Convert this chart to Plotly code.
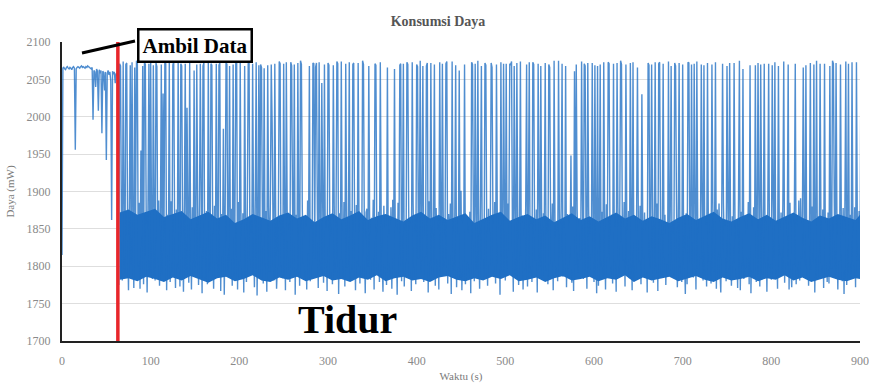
import plotly.graph_objects as go

# Power consumption samples (mW), one per second
daya_awal = [1815,
    2065,2066,2064,2063,2066,2067,2065,2064,2066,2065,2063,2066,2067,2065,
    1956,
    2064,2066,2067,2066,2065,2067,2068,2066,2067,2066,2065,2067,2066,2068,2067,2066,2065,2064,2066,
    1996,2062,2060,2040,2064,2061,2008,2063,2058,2062,1978,2061,2059,2035,2060,
    1942,2058,2062,2056,2060,2048,1862,2061,2057,2060,2045,2058,2055,2068]

daya_tidur = [
1775,2071,2068,1862,1781,2074,1873,1790,2070,2072,1845,1768,1880,2069,1802,2073,1856,1771,2066,1868,
2075,2072,1799,1885,1770,1955,1840,2068,1776,2073,2070,1862,1765,1878,2071,1793,2074,1849,1783,2069,
1871,1781,2072,2067,1805,1888,1774,1862,2070,1789,2031,1843,2073,2071,1768,1869,1815,2072,1779,1887,
1792,2069,2074,1851,1771,1876,1800,2074,1864,1773,2071,2068,1846,1766,1883,2071,1796,2012,1859,1778,
2073,1854,1769,1879,1805,2062,1791,1841,2070,1880,1775,1867,2071,1893,1764,2068,2072,1783,1855,1874,
1776,2075,1863,1794,2071,2069,1847,1770,1881,1803,2071,1857,1786,2069,2072,1767,1870,1813,1984,1762,
1866,2073,2070,1792,1853,2068,1807,1877,1774,2070,1788,1861,2072,2074,1769,1886,1801,2074,1842,1783,
1871,1765,2068,1856,1779,1880,2071,2073,1808,1845,1790,2071,1868,1772,1890,2073,1761,1852,2069,1784,
2070,2066,1859,1777,2065,1802,1874,1766,2069,1878,1793,1885,2070,1990,1849,1781,2071,1862,1770,1806,
1857,2074,2071,1799,1841,1784,2071,1873,1768,2073,1866,1812,1852,1779,2073,2068,1883,1795,2070,1762,
1869,1791,2072,1855,1774,2075,2070,1879,1803,1844,1786,1862,1769,1888,1817,2068,1780,1850,1797,2072,
2071,1810,2066,2072,1876,1771,2073,1859,1794,2045,1884,1778,2070,1805,1851,1767,2072,2069,1867,1783,
1843,1776,2069,1880,1792,1856,2074,2071,1763,1871,1809,2074,1848,1785,1886,1773,2071,1863,1798,1845,
2073,1781,1874,1795,2070,2072,1853,1768,1882,1804,2072,1858,1777,1869,1790,2075,2070,1842,1764,1872,
1877,1800,2068,1850,1782,1865,1807,1889,1769,2071,2069,1847,1793,1873,1779,2073,1860,1812,1766,1881,
1797,1854,1775,2066,1801,1843,1786,1879,1770,1889,1808,2064,1791,1852,1762,1885,1815,2069,2071,1780,
1862,2071,1773,1848,1805,2073,2070,1876,1788,1857,1767,2073,1883,1798,1845,1776,2070,2067,1810,1869,
2075,1792,1872,2068,1779,1841,1813,2068,2072,1765,1887,1802,2072,1851,1789,1864,2070,1774,1878,1806,
1849,1769,2073,1880,1787,2071,1858,1800,1846,2071,2074,1777,1870,1815,1884,1763,2074,1853,1794,1867,
2069,1772,1843,1798,2062,1785,1901,1768,1861,1811,2070,1776,1868,1803,1847,1790,1873,1764,2073,2070,
1856,1780,2071,1869,1795,2075,1844,1770,1882,2068,1807,1859,1786,2072,2069,1850,1774,1877,1799,1842,
2072,2066,1865,1789,1886,1777,2070,1852,1804,1871,1762,2073,1846,1793,2071,1879,1781,2071,1797,1884,
1858,2071,2069,2074,1848,1766,2068,1874,1788,2072,1863,1775,1842,2074,1814,1868,1769,1851,1796,1883,
2070,1773,1881,2073,1792,1857,1779,2073,2070,1845,1808,1876,1765,2071,1889,1799,2068,1853,1787,1871,
1866,2072,1794,1843,1776,2070,2066,1872,1803,1884,1768,2075,1855,1790,1849,1780,2075,1861,1811,1878,
2071,1786,1852,1807,2068,1772,1870,1797,1858,1813,1948,1778,1880,1767,2061,1802,2070,1875,1791,1862,
1864,1809,2074,1887,1783,2071,2068,1850,1770,2072,1875,1796,1844,1816,2072,1867,1779,2069,1856,1764,
2068,1774,1848,2070,1800,1873,1785,2073,1859,1769,1883,1812,2073,2071,1843,1793,1869,1777,2071,1806,
1853,1766,2072,1879,1790,1862,2075,2070,1845,1808,1886,1773,2070,1851,1801,1874,1784,2072,1847,1768,
2073,1780,1866,1792,1857,2066,1862,1803,1881,1776,2030,1849,1810,1872,1786,1855,1765,2072,2069,1797,
1844,2070,1877,1778,1858,2073,1799,1884,1767,2071,2073,1862,1789,1846,2071,1812,1869,1775,1852,1802,
2074,1794,1875,2068,1805,1843,1787,2072,2068,1888,1772,1854,2072,1798,1866,1779,2070,1848,1815,1763,
1871,1776,2073,2072,1845,1803,2070,1859,1785,2071,1874,1769,2074,1851,1796,1863,1810,2070,1885,1781,
2069,1788,1856,1773,2072,1842,1806,1870,1777,2070,1882,1793,1849,2073,1770,1876,1813,1884,1799,1765,
1860,2071,1883,1811,1853,1780,2068,1878,1795,2072,1847,1774,1867,1804,2072,1858,1786,1841,1771,1890,
2075,1768,1873,1801,2064,1783,1860,1797,1850,1809,1886,1776,2069,1764,1855,1792,1879,1807,2069,1779,
1848,2072,1868,1773,2070,1881,1789,1844,2071,1805,1861,1766,1875,2071,1798,1852,1782,2069,1889,1812,
2073,1787,1857,1770,2068,1846,1814,1872,1791,1884,2074,1778,1859,1800,1843,2070,1769,1885,1806,1772,
1865,1802,1877,2071,1776,1854,1793,1888,1781,1891,1810,1849,2066,1870,1799,2069,1788,1862,1774,1843,
2072,1796,1880,1808,2070,1765,1851,2075,1783,1867,1815,2071,1845,1792,1876,1771,2071,1803,1858,1779,
1872,1777,2068,1847,1797,2075,2071,1886,1786,2072,1856,1769,1864,1806,2070,1841,1780,1878,1763,1886,
2074,1775,1853,2071,1791,1869,1784,2073,1845,1799,1879,1772,2073,1850,1808,1874,1795,2069,1882,1820,
]

daya = daya_awal + daya_tidur
waktu = list(range(len(daya)))  # seconds

# Envelope of the dense sleeping band (mW), one value every 10 s from t=65 s
band_waktu = list(range(65, 900, 10)) + [900]
band_bawah = [1782,1784,1780,1786,1783,1779,1785,1781,1787,1782,1778,1784,1786,1780,1783,1788,1781,1779,1785,1782,
              1786,1780,1784,1787,1781,1783,1779,1785,1782,1788,1780,1784,1786,1781,1783,1779,1785,1787,1782,1780,
              1784,1781,1786,1783,1788,1780,1782,1785,1779,1784,1787,1781,1783,1786,1780,1784,1782,1788,1779,1785,
              1781,1783,1786,1780,1784,1787,1782,1779,1785,1781,1783,1786,1780,1784,1782,1788,1781,1785,1779,1783,
              1786,1782,1780,1784,1783]
band_atas = [1872,1876,1869,1873,1877,1866,1870,1874,1863,1868,1873,1864,1869,1858,1863,1870,1866,1861,1868,1872,
             1864,1869,1859,1866,1871,1863,1868,1874,1862,1867,1870,1865,1860,1868,1873,1864,1869,1862,1866,1871,
             1858,1864,1869,1873,1861,1866,1870,1863,1868,1859,1865,1871,1862,1867,1860,1866,1872,1864,1869,1861,
             1867,1863,1858,1865,1870,1862,1868,1873,1864,1860,1866,1871,1863,1869,1861,1867,1872,1865,1860,1868,
             1864,1870,1866,1862,1869]

waktu_ambil = 63
x_ticks = [0, 100, 200, 300, 400, 500, 600, 700, 800, 900]
y_ticks = [1700, 1750, 1800, 1850, 1900, 1950, 2000, 2050, 2100]

SERIF = "Liberation Serif, Times New Roman, serif"
BLUE = "#1f6fc4"

fig = go.Figure()
fig.add_trace(go.Scatter(x=band_waktu, y=band_bawah, mode="lines",
                         line=dict(width=0, color=BLUE), showlegend=False, hoverinfo="skip"))
fig.add_trace(go.Scatter(x=band_waktu, y=band_atas, mode="lines", fill="tonexty",
                         fillcolor=BLUE, line=dict(width=0, color=BLUE),
                         showlegend=False, hoverinfo="skip"))
fig.add_trace(go.Scatter(x=waktu, y=daya, mode="lines",
                         line=dict(color=BLUE, width=1.4, simplify=False),
                         opacity=0.78, showlegend=False))
fig.add_trace(go.Scatter(x=[waktu_ambil, waktu_ambil], y=[1700, 2100], mode="lines",
                         line=dict(color="#e8262b", width=3.5), showlegend=False))

L, R, T, B = 62, 860, 42, 341
W, H = 869, 383
def px(xp): return (xp - L) / (R - L)
def py(yp): return (B - yp) / (B - T)

fig.update_layout(
    width=W, height=H,
    margin=dict(l=L, r=W - R, t=T, b=H - B, autoexpand=False),
    paper_bgcolor="white", plot_bgcolor="white",
    title=dict(text="<b>Konsumsi Daya</b>", x=438 / W, xanchor="center",
               y=1 - 21 / H, yanchor="middle",
               font=dict(family=SERIF, size=14, color="#555555")),
    xaxis=dict(range=[0, 900], tickvals=x_ticks, showgrid=False, zeroline=False,
               showline=True, linecolor="#222222", linewidth=2, automargin=False,
               ticks="outside", ticklen=8, tickcolor="rgba(0,0,0,0)",
               tickfont=dict(family=SERIF, size=12, color="#8a8a8a"),
               title=dict(text="Waktu (s)", standoff=6,
                          font=dict(family=SERIF, size=11, color="#7a7a7a"))),
    yaxis=dict(range=[1700, 2100], tickvals=y_ticks, showgrid=True, gridcolor="#dedede",
               gridwidth=1, zeroline=False, showline=True, linecolor="#222222", linewidth=2,
               automargin=False,
               ticks="outside", ticklen=7, tickcolor="rgba(0,0,0,0)",
               tickfont=dict(family=SERIF, size=12, color="#8a8a8a"),
               title=dict(text="Daya (mW)", standoff=10,
                          font=dict(family=SERIF, size=11, color="#7a7a7a"))),
)

fig.add_shape(type="line", xref="paper", yref="paper",
              x0=px(82), y0=py(53), x1=px(135), y1=py(41),
              line=dict(color="black", width=3))

fig.add_annotation(xref="paper", yref="paper", x=px(194.5), y=py(45.5),
                   xanchor="center", yanchor="middle",
                   text="<b>Ambil Data</b>", showarrow=False,
                   font=dict(family=SERIF, size=21, color="black"),
                   bgcolor="white", bordercolor="black", borderwidth=2.5, borderpad=3)

fig.add_annotation(xref="paper", yref="paper", x=px(347), y=py(319),
                   xanchor="center", yanchor="middle",
                   text="<b>Tidur</b>", showarrow=False,
                   font=dict(family=SERIF, size=40, color="black"))

fig.write_html("out.html")
